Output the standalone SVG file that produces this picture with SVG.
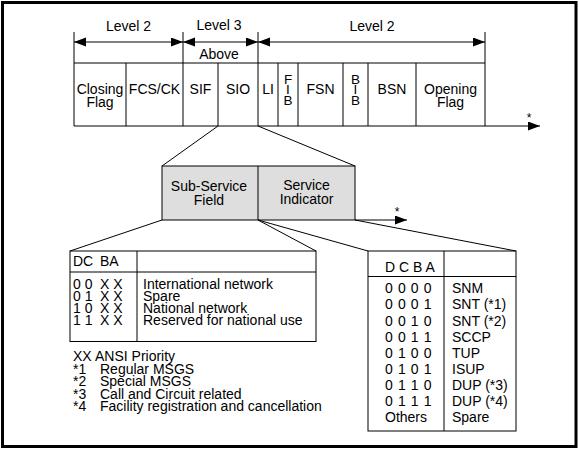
<svg xmlns="http://www.w3.org/2000/svg" width="579" height="449" viewBox="0 0 579 449">
<style>
text{font-family:"Liberation Sans",Arial,sans-serif;font-size:14px;fill:#000}
.c{text-anchor:middle}
.s{font-size:13.5px}
.w{word-spacing:1.2px}
.ln{stroke:#000;stroke-width:1;fill:none}
.ast{font-size:12px}
</style>
<defs>
<marker id="ah" markerUnits="userSpaceOnUse" markerWidth="13" markerHeight="10" refX="12" refY="4.5" orient="auto-start-reverse">
<path d="M0,0 L12,4.5 L0,9 z" fill="#000"/>
</marker>
</defs>
<rect x="2.5" y="2.5" width="573.5" height="444" fill="#fff" stroke="#000" stroke-width="3"/>

<g id="level-labels">
<text class="c" x="128.5" y="31">Level 2</text>
<text class="c" x="219" y="30">Level 3</text>
<text class="c" x="219" y="59">Above</text>
<text class="c" x="372" y="31">Level 2</text>
</g>

<g id="frame-row" class="ln">
<line x1="74" y1="32" x2="74" y2="126"/>
<line x1="183" y1="32" x2="183" y2="126"/>
<line x1="258" y1="32" x2="258" y2="126"/>
<line x1="485" y1="32" x2="485" y2="126"/>
<line x1="74" y1="63" x2="485" y2="63"/>
</g>

<g id="field-closing-flag"><line class="ln" x1="126" y1="63" x2="126" y2="126"/><text class="c" x="100" y="94">Closing</text><text class="c" x="100" y="107">Flag</text></g>
<g id="field-fcs"><text class="c" x="154.5" y="94">FCS/CK</text></g>
<g id="field-sif"><line class="ln" x1="218" y1="63" x2="218" y2="126"/><text class="c" x="200.5" y="94">SIF</text></g>
<g id="field-sio"><text class="c" x="238" y="94">SIO</text></g>
<g id="field-li"><line class="ln" x1="278" y1="63" x2="278" y2="126"/><text class="c" x="268" y="94">LI</text></g>
<g id="field-fib"><line class="ln" x1="298" y1="63" x2="298" y2="126"/><text class="c s" x="288" y="83.5">F</text><text class="c s" x="288" y="94">I</text><text class="c s" x="288" y="104.5">B</text></g>
<g id="field-fsn"><line class="ln" x1="343" y1="63" x2="343" y2="126"/><text class="c" x="320.5" y="94">FSN</text></g>
<g id="field-bib"><line class="ln" x1="368" y1="63" x2="368" y2="126"/><text class="c s" x="355.5" y="83.5">B</text><text class="c s" x="355.5" y="94">I</text><text class="c s" x="355.5" y="104.5">B</text></g>
<g id="field-bsn"><line class="ln" x1="416" y1="63" x2="416" y2="126"/><text class="c" x="392" y="94">BSN</text></g>
<g id="field-opening-flag"><text class="c" x="450.5" y="94">Opening</text><text class="c" x="450.5" y="107">Flag</text></g>

<g id="sio-box">
<rect x="162" y="166" width="193" height="54" fill="#dedede" stroke="#000" stroke-width="1"/>
<line class="ln" x1="258" y1="166" x2="258" y2="220"/>
<text class="c" x="209" y="191">Sub-Service</text>
<text class="c" x="209" y="204.5">Field</text>
<text class="c" x="306.5" y="189.5">Service</text>
<text class="c" x="306.5" y="203.5">Indicator</text>
</g>

<g id="subservice-table">
<rect x="70" y="251" width="246" height="90.5" fill="none" stroke="#000" stroke-width="1"/>
<line class="ln" x1="70" y1="272" x2="316" y2="272"/>
<line class="ln" x1="137" y1="251" x2="137" y2="341.5"/>
<text x="73" y="266">DC</text><text x="100" y="266">BA</text>
<text x="73" y="289">0 0</text><text x="100" y="289">X X</text><text x="143" y="289">International network</text>
<text x="73" y="301">0 1</text><text x="100" y="301">X X</text><text x="143" y="301">Spare</text>
<text x="73" y="313">1 0</text><text x="100" y="313">X X</text><text x="143" y="313">National network</text>
<text x="73" y="325">1 1</text><text x="100" y="325">X X</text><text x="143" y="325">Reserved for national use</text>
</g>

<g id="footnotes">
<text x="73" y="361">XX</text><text x="95" y="361">ANSI Priority</text>
<text x="73" y="373.5">*1</text><text x="100" y="373.5">Regular MSGS</text>
<text x="73" y="386">*2</text><text x="100" y="386">Special MSGS</text>
<text x="73" y="398.5">*3</text><text x="100" y="398.5">Call and Circuit related</text>
<text x="73" y="411">*4</text><text x="100" y="411">Facility registration and cancellation</text>
</g>

<g id="service-indicator-table">
<rect x="368" y="251" width="148" height="180" fill="none" stroke="#000" stroke-width="1"/>
<line class="ln" x1="368" y1="276.5" x2="516" y2="276.5"/>
<line class="ln" x1="444" y1="251" x2="444" y2="431"/>
<text x="385" y="272">D C B A</text>
<text class="w" x="385" y="293">0 0 0 0</text><text x="452" y="293">SNM</text>
<text class="w" x="385" y="309">0 0 0 1</text><text x="452" y="309">SNT (*1)</text>
<text class="w" x="385" y="325.5">0 0 1 0</text><text x="452" y="325.5">SNT (*2)</text>
<text class="w" x="385" y="341.5">0 0 1 1</text><text x="452" y="341.5">SCCP</text>
<text class="w" x="385" y="357.5">0 1 0 0</text><text x="452" y="357.5">TUP</text>
<text class="w" x="385" y="374">0 1 0 1</text><text x="452" y="374">ISUP</text>
<text class="w" x="385" y="390">0 1 1 0</text><text x="452" y="390">DUP (*3)</text>
<text class="w" x="385" y="406">0 1 1 1</text><text x="452" y="406">DUP (*4)</text>
<text x="385" y="422">Others</text><text x="452" y="422">Spare</text>
</g>

<g id="connectors" class="ln">
<line x1="74" y1="42" x2="183" y2="42" marker-start="url(#ah)" marker-end="url(#ah)"/>
<line x1="183" y1="42" x2="258" y2="42" marker-start="url(#ah)" marker-end="url(#ah)"/>
<line x1="258" y1="42" x2="485" y2="42" marker-start="url(#ah)" marker-end="url(#ah)"/>
<line x1="74" y1="126" x2="540" y2="126" marker-end="url(#ah)"/>
<line x1="218" y1="126" x2="162" y2="166"/>
<line x1="258" y1="126" x2="355" y2="166"/>
<line x1="162" y1="220" x2="70" y2="251"/>
<line x1="258" y1="220" x2="316" y2="251"/>
<line x1="258" y1="220" x2="368" y2="251"/>
<line x1="355" y1="220" x2="516" y2="251"/>
<line x1="355" y1="220" x2="407" y2="220" marker-end="url(#ah)"/>
</g>
<text class="c ast" x="529" y="122">*</text>
<text class="c ast" x="397" y="216">*</text>
</svg>
